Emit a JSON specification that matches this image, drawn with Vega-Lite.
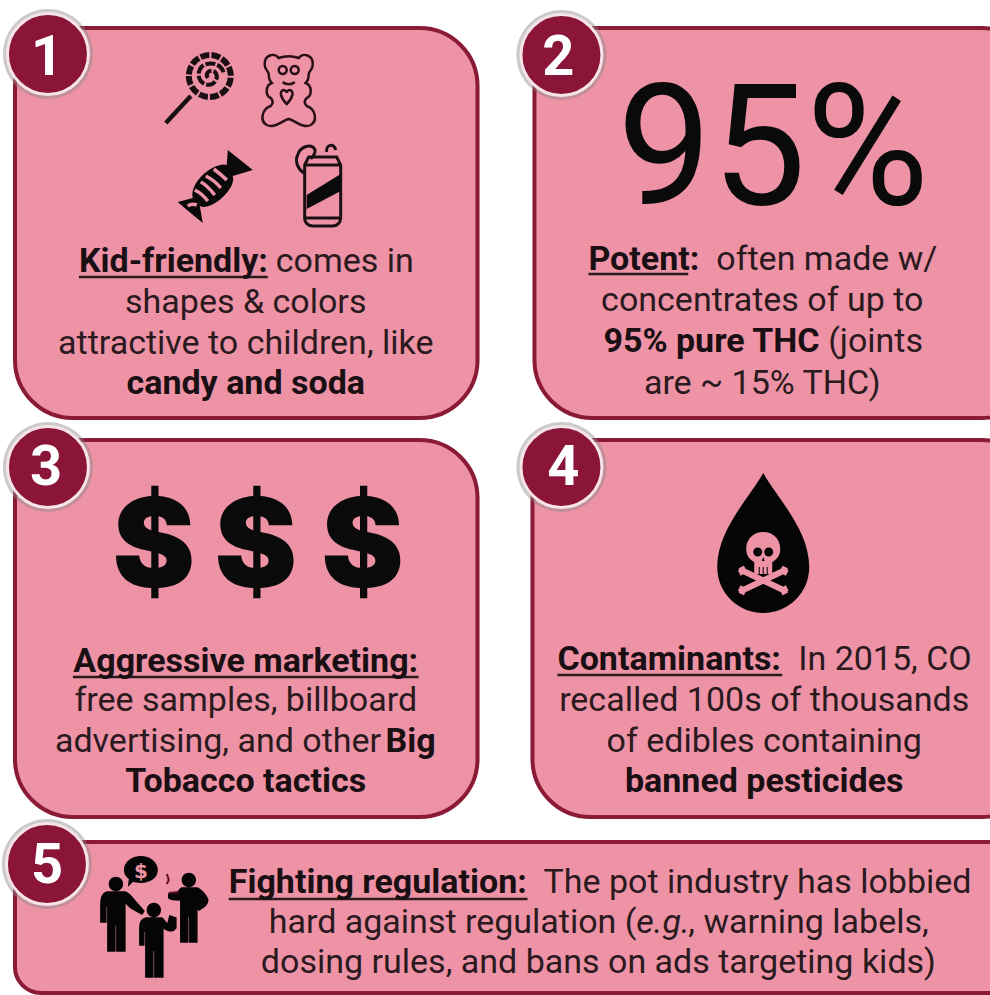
{"$schema":"https://vega.github.io/schema/vega-lite/v6.json","autosize":{"type":"fit","contains":"padding"},"width":990,"height":995,"padding":0,"background":"#ffffff","view":{"stroke":null},
"datasets":{
"panels":[{"id":1,"x":14,"x2":477,"y":28,"y2":418},{"id":2,"x":534,"x2":1040,"y":28,"y2":418},{"id":3,"x":14,"x2":477,"y":440,"y2":817},{"id":4,"x":532,"x2":1040,"y":440,"y2":817}],
"badges":[{"n":"1","x":47,"y":54,"ty":75,"tx":46},{"n":"2","x":561,"y":55,"ty":75,"tx":558},{"n":"3","x":47,"y":467,"ty":485,"tx":45},{"n":"4","x":561,"y":467,"ty":485,"tx":563},{"n":"5","x":46,"y":864,"ty":883,"tx":46}],
"body":[{"t":"shapes & colors","x":245,"y":312.5},{"t":"attractive to children, like","x":245,"y":353.5},{"t":"concentrates of up to","x":762,"y":310.5},{"t":"are ~ 15% THC)","x":762,"y":393.5},{"t":"free samples, billboard","x":245,"y":710.5},{"t":"recalled 100s of thousands","x":764,"y":710.5},{"t":"of edibles containing","x":764,"y":751.5},{"t":"dosing rules, and bans on ads targeting kids)","x":598,"y":973}],
"bold":[{"t":"candy and soda","x":245,"y":393.5},{"t":"Aggressive marketing:","x":245,"y":671.5},{"t":"Tobacco tactics","x":245,"y":791.5},{"t":"banned pesticides","x":764,"y":791.5}],
"bodyLeft":[{"t":"comes in","x":275,"y":271.5},{"t":"often made w/","x":716,"y":269.5},{"t":"(joints","x":828,"y":351.5},{"t":"advertising, and other","x":54,"y":751.5},{"t":"In 2015, CO","x":798,"y":669.5},{"t":"The pot industry has lobbied","x":543,"y":893},{"t":"hard against regulation (","x":268,"y":933},{"t":", warning labels,","x":688,"y":933}],
"boldLeft":[{"t":"Kid-friendly:","x":78,"y":271.5},{"t":"Potent:","x":588,"y":269.5},{"t":"95% pure THC","x":603,"y":351.5},{"t":"Big","x":385,"y":751.5},{"t":"Contaminants:","x":557,"y":669.5},{"t":"Fighting regulation:","x":228,"y":893}],
"underlines":[{"x":78,"x2":267,"y":277},{"x":588,"x2":688,"y":274},{"x":72,"x2":418,"y":677},{"x":557,"x2":782,"y":675},{"x":228,"x2":527,"y":899}],
"dollars":[{"t":"$","x":153,"y":587},{"t":"$","x":255,"y":587},{"t":"$","x":362,"y":587}]
},
"encoding":{"x":{"field":"x","type":"quantitative","scale":{"domain":[0,990]},"axis":null},"y":{"field":"y","type":"quantitative","scale":{"domain":[995,0]},"axis":null}},
"layer":[
{"data":{"name":"panels"},"mark":{"type":"rect","clip":true,"cornerRadius":58,"fill":"#EE92A6","stroke":"#8A1A36","strokeWidth":4},"encoding":{"x2":{"field":"x2"},"y2":{"field":"y2"}}},
{"data":{"values":[{"id":5,"x":14,"x2":1040,"y":842,"y2":993}]},"mark":{"type":"rect","clip":true,"cornerRadius":26,"fill":"#EE92A6","stroke":"#8A1A36","strokeWidth":4},"encoding":{"x2":{"field":"x2"},"y2":{"field":"y2"}}},
{"data":{"name":"underlines"},"mark":{"type":"rule","stroke":"#2a1a1e","strokeWidth":2.5},"encoding":{"x2":{"field":"x2"}}},
{"data":{"name":"badges"},"mark":{"type":"point","shape":"circle","filled":true,"fill":"#8a8a8a","opacity":0.45,"size":8100,"stroke":null}},
{"data":{"name":"badges"},"mark":{"type":"point","shape":"circle","filled":true,"fill":"#8A1538","opacity":1,"size":6560,"stroke":"#f6e4e8","strokeWidth":3}},
{"data":{"name":"badges"},"mark":{"type":"text","font":"Roboto","fontWeight":"bold","fontSize":56,"fill":"#ffffff","align":"center","baseline":"alphabetic"},"encoding":{"x":{"field":"tx","type":"quantitative"},"y":{"field":"ty","type":"quantitative"},"text":{"field":"n"}}},
{"data":{"values":[{"t":"95%","x":773,"y":204}]},"mark":{"type":"text","font":"Roboto","fontSize":168,"fill":"#0a0a0a","align":"center","baseline":"alphabetic"},"encoding":{"text":{"field":"t"}}},
{"data":{"name":"dollars"},"mark":{"type":"text","font":"Inter","fontWeight":900,"fontSize":124,"fill":"#0a0a0a","align":"center","baseline":"alphabetic"},"encoding":{"text":{"field":"t"}}},
{"data":{"name":"body"},"mark":{"type":"text","font":"Roboto","fontSize":34,"fill":"#2a1a1e","align":"center","baseline":"alphabetic"},"encoding":{"text":{"field":"t"}}},
{"data":{"name":"bold"},"mark":{"type":"text","font":"Roboto","fontWeight":"bold","fontSize":34,"fill":"#1a1014","align":"center","baseline":"alphabetic"},"encoding":{"text":{"field":"t"}}},
{"data":{"name":"bodyLeft"},"mark":{"type":"text","font":"Roboto","fontSize":34,"fill":"#2a1a1e","align":"left","baseline":"alphabetic"},"encoding":{"text":{"field":"t"}}},
{"data":{"name":"boldLeft"},"mark":{"type":"text","font":"Roboto","fontWeight":"bold","fontSize":34,"fill":"#1a1014","align":"left","baseline":"alphabetic"},"encoding":{"text":{"field":"t"}}},
{"data":{"values":[{"t":"e.g.","x":636,"y":933}]},"mark":{"type":"text","font":"Roboto","fontStyle":"italic","fontSize":34,"fill":"#2a1a1e","align":"left","baseline":"alphabetic"},"encoding":{"text":{"field":"t"}}},
{"data":{"values":[{"icon":"lollipop ring","x":209,"y":76}]},"mark":{"type":"point","size":4,"opacity":1,"filled":false,"stroke":"#1a1014","strokeWidth":6,"strokeDash":[9,2],"shape":"M-21,0 A21,21 0 1 0 21,0 A21,21 0 1 0 -21,0 Z"}},
{"data":{"values":[{"icon":"lollipop swirl","x":209,"y":76}]},"mark":{"type":"point","size":4,"opacity":1,"filled":false,"stroke":"#1a1014","strokeWidth":4,"strokeDash":[10,2],"shape":"M-2,2 C-6,-4 3,-8 6,-3 C10,4 2,11 -5,8 C-13,4 -13,-6 -6,-11 C3,-15 12,-11 14,-3"}},
{"data":{"values":[{"icon":"lollipop stick","x":209,"y":76}]},"mark":{"type":"point","size":4,"opacity":1,"filled":false,"stroke":"#1a1014","strokeWidth":4.5,"shape":"M-19,20 L-44,47"}},
{"data":{"values":[{"icon":"bear","x":288,"y":91}]},"mark":{"type":"point","size":4,"opacity":1,"filled":false,"stroke":"#2a1018","strokeWidth":2.5,"shape":"M-10,-33 C-14,-39 -25,-36 -24,-26 C-24,-21 -20,-20 -20,-17 C-20,-13 -19,-10 -17,-8 C-24,-5 -23,5 -18,7 C-16,9 -15,12 -18,15 C-27,18 -29,30 -22,34 C-14,38 -6,29 0,28 C6,29 14,38 22,34 C29,30 27,18 18,15 C15,12 16,9 18,7 C23,5 24,-5 17,-8 C19,-10 20,-13 20,-17 C20,-20 24,-21 24,-26 C25,-36 14,-39 10,-33 C4,-35 -4,-35 -10,-33 Z M-10,-21 A4,4 0 1 0 -2,-21 A4,4 0 1 0 -10,-21 Z M2,-21 A4,4 0 1 0 10,-21 A4,4 0 1 0 2,-21 Z M-6,-9 C-3,-6 3,-6 6,-9 M-2,13 C-8,7 -10,0 -5,-1 C-3,-1 -2,1 -2,2 C-2,1 -1,-1 1,-1 C6,0 4,7 -2,13 Z"}},
{"data":{"values":[{"icon":"candy","x":213,"y":185}]},"mark":{"type":"point","size":4,"opacity":1,"filled":true,"fill":"#0a0a0a","stroke":null,"shape":"M14,-35 L39,-15 L19,-9 C21,-3 16,6 8,13 C0,20 -9,24 -14,21 L-11,38 L-28,24 L-36,17 L-21,13 C-23,6 -18,-4 -10,-11 C-2,-18 8,-22 13,-20 Z"}},
{"data":{"values":[{"icon":"candy stripes","x":213,"y":185}]},"mark":{"type":"point","size":4,"opacity":1,"filled":false,"stroke":"#EE92A6","strokeWidth":3.5,"shape":"M-8,-9 C-2,-6 3,-2 7,3 M-13,-3 C-7,0 -3,5 1,10 M-19,5 C-13,8 -9,12 -6,16 M0,-16 C4,-13 9,-9 13,-5 M-26,21 C-23,19 -20,19 -17,20"}},
{"data":{"values":[{"icon":"can","x":322,"y":187}]},"mark":{"type":"point","size":4,"opacity":1,"filled":false,"stroke":"#1a1014","strokeWidth":3,"shape":"M-18,-22 L-14,-30 L14,-30 L18,-22 L18,31 C18,36 14,39 10,39 L-10,39 C-14,39 -18,36 -18,31 Z M-18,31 L18,31 M-18,-22 L18,-22 M-19,-14 C-25,-18 -28,-26 -25,-32 C-23,-40 -12,-44 -8,-38 C-6,-34 -10,-31 -12,-28 M4,-35 C3,-43 12,-44 13,-37"}},
{"data":{"values":[{"icon":"can stripe","x":322,"y":187}]},"mark":{"type":"point","size":4,"opacity":1,"filled":true,"fill":"#0a0a0a","stroke":null,"shape":"M-16,8 L18,-13 L18,4 L-16,22 Z"}},
{"data":{"values":[{"icon":"drop","x":763,"y":540}]},"mark":{"type":"point","size":4,"opacity":1,"filled":true,"fill":"#050505","stroke":null,"shape":"M0,-67 C14,-42 46,-10 46,27 C46,53 25,73 0,73 C-25,73 -46,53 -46,27 C-46,-10 -14,-42 0,-67 Z"}},
{"data":{"values":[{"icon":"bones","x":763,"y":540}]},"mark":{"type":"point","size":4,"opacity":1,"filled":false,"stroke":"#EE92A6","strokeWidth":6,"shape":"M-20,31 L20,50 M20,31 L-20,50 M-22,27 L-20,31 L-24,33 M22,27 L20,31 L24,33 M-24,48 L-20,50 L-22,54 M24,48 L20,50 L22,54"}},
{"data":{"values":[{"icon":"skull","x":763,"y":540}]},"mark":{"type":"point","size":4,"opacity":1,"filled":true,"fill":"#EE92A6","stroke":null,"shape":"M-17,9 C-17,-2 -9,-8 0,-8 C9,-8 17,-2 17,9 C17,16 13,20 9,22 L9,34 L-9,34 L-9,22 C-13,20 -17,16 -17,9 Z"}},
{"data":{"values":[{"icon":"skull face","x":763,"y":540}]},"mark":{"type":"point","size":4,"opacity":1,"filled":true,"fill":"#050505","stroke":null,"shape":"M-10,12 A4.5,4.5 0 1 0 -1,12 A4.5,4.5 0 1 0 -10,12 Z M1,12 A4.5,4.5 0 1 0 10,12 A4.5,4.5 0 1 0 1,12 Z M-1.5,21 L1.5,21 L0,17 Z M-4.5,27 L-3.5,27 L-3.5,34 L-4.5,34 Z M-0.5,27 L0.5,27 L0.5,34 L-0.5,34 Z M3.5,27 L4.5,27 L4.5,34 L3.5,34 Z"}},
{"data":{"values":[{"icon":"speaker","x":115,"y":885}]},"mark":{"type":"point","size":4,"opacity":1,"filled":true,"fill":"#050505","stroke":"#050505","strokeWidth":1.5,"shape":"M-6.5,-1 A6.5,6.5 0 1 0 6.5,-1 A6.5,6.5 0 1 0 -6.5,-1 Z M-9,7 L9,7 C13,8 16,12 20,17 L28,26 L26,29 L15,23 L9,17 L9,66 L1,66 L1,40 L-1,40 L-1,66 L-8,66 L-8,22 L-10,20 L-10,37 L-15,37 L-15,20 C-15,12 -13,8 -9,7 Z"}},
{"data":{"values":[{"icon":"listener","x":153,"y":910}]},"mark":{"type":"point","size":4,"opacity":1,"filled":true,"fill":"#050505","stroke":"#050505","strokeWidth":1.5,"shape":"M-6.5,0 A6.5,6.5 0 1 0 6.5,0 A6.5,6.5 0 1 0 -6.5,0 Z M-8,8 L8,8 C10,9 13,15 14,14 L16,6 L22,8 L22,18 L20,20 C16,22 12,20 9,17 L9,67 L1,67 L1,40 L-1,40 L-1,67 L-8,67 L-8,20 L-10,22 L-10,35 L-14,35 L-14,18 C-14,12 -12,9 -8,8 Z"}},
{"data":{"values":[{"icon":"smoker","x":188,"y":880}]},"mark":{"type":"point","size":4,"opacity":1,"filled":true,"fill":"#050505","stroke":"#050505","strokeWidth":1.5,"shape":"M-6.5,0 A6.5,6.5 0 1 0 6.5,0 A6.5,6.5 0 1 0 -6.5,0 Z M-7,8 L8,8 C12,9 18,16 19,20 C19,24 14,28 10,30 L8,26 L8,62 L1,62 L1,36 L-1,36 L-1,62 L-8,62 L-8,20 C-12,20 -18,20 -20,18 L-20,14 L-12,13 C-10,11 -9,9 -7,8 Z"}},
{"data":{"values":[{"icon":"cigar smoke","x":188,"y":880}]},"mark":{"type":"point","size":4,"opacity":1,"filled":false,"stroke":"#5a1020","strokeWidth":2,"shape":"M-22,-6 L-20,0 L-22,4 M-20,13 L-10,12"}},
{"data":{"values":[{"icon":"bubble","x":140,"y":870}]},"mark":{"type":"point","size":4,"opacity":1,"filled":true,"fill":"#050505","stroke":null,"shape":"M-17,0 C-17,-8 -9,-14 0,-14 C9,-14 17,-8 17,0 C17,8 9,13 0,13 C-3,13 -6,12 -8,12 L-13,17 L-12,9 C-15,7 -17,4 -17,0 Z"}},
{"data":{"values":[{"t":"$","x":140,"y":878}]},"mark":{"type":"text","font":"DejaVu Sans","fontWeight":"bold","fontSize":20,"fill":"#EE92A6","align":"center","baseline":"alphabetic"},"encoding":{"text":{"field":"t"}}}
]}
